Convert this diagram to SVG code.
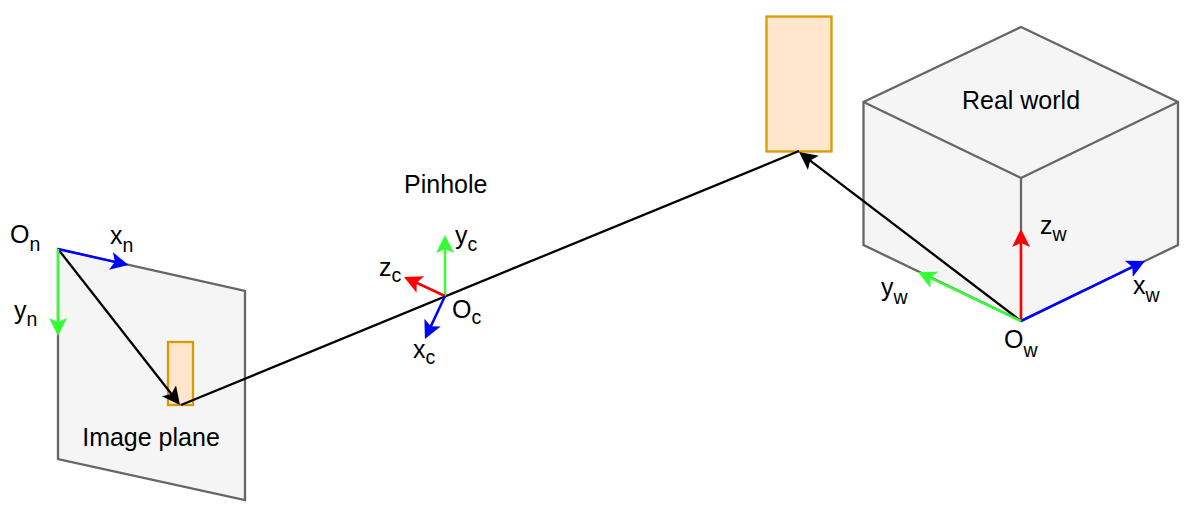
<svg xmlns="http://www.w3.org/2000/svg" width="1192" height="506" viewBox="0 0 1192 506">
<style>
text{font-family:"Liberation Sans",Arial,sans-serif;font-size:25px;fill:#000}
.s{font-size:19.500px}
.g{fill:#f5f5f5;stroke:#666666;stroke-width:2.300;stroke-linejoin:miter}
.e{fill:none;stroke:#666666;stroke-width:2.300}
.o{fill:#ffe6cc;stroke:#d79b00;stroke-width:2.300}
.k,.r,.n,.b{fill:none;stroke-width:2.500}
.k{stroke:#000;stroke-width:2.300}.r{stroke:#ff0000;marker-end:url(#mr)}.n{stroke:#33ff33;marker-end:url(#mg)}.b{stroke:#0000ff;marker-end:url(#mb)}
.a{marker-end:url(#mk)}
</style>
<defs>
<marker id="mk" markerUnits="userSpaceOnUse" markerWidth="24" markerHeight="24" refX="6" refY="12" orient="auto" viewBox="0 0 24 24"><path d="M0 3L18 12L0 21L4 12Z" fill="#000"/></marker>
<marker id="mr" markerUnits="userSpaceOnUse" markerWidth="24" markerHeight="24" refX="6" refY="12" orient="auto" viewBox="0 0 24 24"><path d="M0 3L18 12L0 21L4 12Z" fill="#ff0000"/></marker>
<marker id="mg" markerUnits="userSpaceOnUse" markerWidth="24" markerHeight="24" refX="6" refY="12" orient="auto" viewBox="0 0 24 24"><path d="M0 3L18 12L0 21L4 12Z" fill="#33ff33"/></marker>
<marker id="mb" markerUnits="userSpaceOnUse" markerWidth="24" markerHeight="24" refX="6" refY="12" orient="auto" viewBox="0 0 24 24"><path d="M0 3L18 12L0 21L4 12Z" fill="#0000ff"/></marker>
</defs>
<g id="image-plane"><polygon class="g" points="58,249 245,291 245,500 58,459"/><text x="151" y="446" text-anchor="middle">Image plane</text></g>
<g id="image-object"><rect class="o" x="168" y="342" width="25" height="63"/></g>
<g id="real-world"><polygon class="g" points="1021,27 1178,102 1178,245 1021,321 863.500,245 863.500,102"/><path class="e" d="M863.500 102L1021 178L1178 102M1021 178V321"/><text x="1021" y="109" text-anchor="middle">Real world</text></g>
<g id="world-object"><rect class="o" x="766.500" y="16.500" width="65" height="135"/></g>
<g id="pinhole"><text x="404" y="193">Pinhole</text></g>
<g id="connectors">
<path class="k" d="M181 405L799 151"/>
<path class="k a" d="M58 249L172.600 395.500"/>
<path class="k a" d="M1021 321L808.600 159.300"/>
<path class="b" d="M58 249L116.800 262.350"/>
<path class="n" d="M58 249V324"/>
<path class="n" d="M445 296V247"/>
<path class="r" d="M445 296L414.900 282"/>
<path class="b" d="M445 296L430 328.100"/>
<path class="r" d="M1021 321V241"/>
<path class="b" d="M1021 321L1134.200 266.200"/>
<path class="n" d="M1021 321L928.800 277.200"/>
</g>
<g id="labels">
<text x="10" y="243">O<tspan class="s" y="251">n</tspan></text>
<text x="110" y="244">x<tspan class="s" y="252">n</tspan></text>
<text x="14" y="319">y<tspan class="s" y="326">n</tspan></text>
<text x="379" y="276">z<tspan class="s" y="282">c</tspan></text>
<text x="455" y="244">y<tspan class="s" y="251">c</tspan></text>
<text x="452" y="318">O<tspan class="s" y="324">c</tspan></text>
<text x="413" y="358">x<tspan class="s" y="364">c</tspan></text>
<text x="1040" y="234">z<tspan class="s" y="241">w</tspan></text>
<text x="881" y="296">y<tspan class="s" y="304">w</tspan></text>
<text x="1133" y="294">x<tspan class="s" y="302">w</tspan></text>
<text x="1004" y="348">O<tspan class="s" y="357">w</tspan></text>
</g>
</svg>
